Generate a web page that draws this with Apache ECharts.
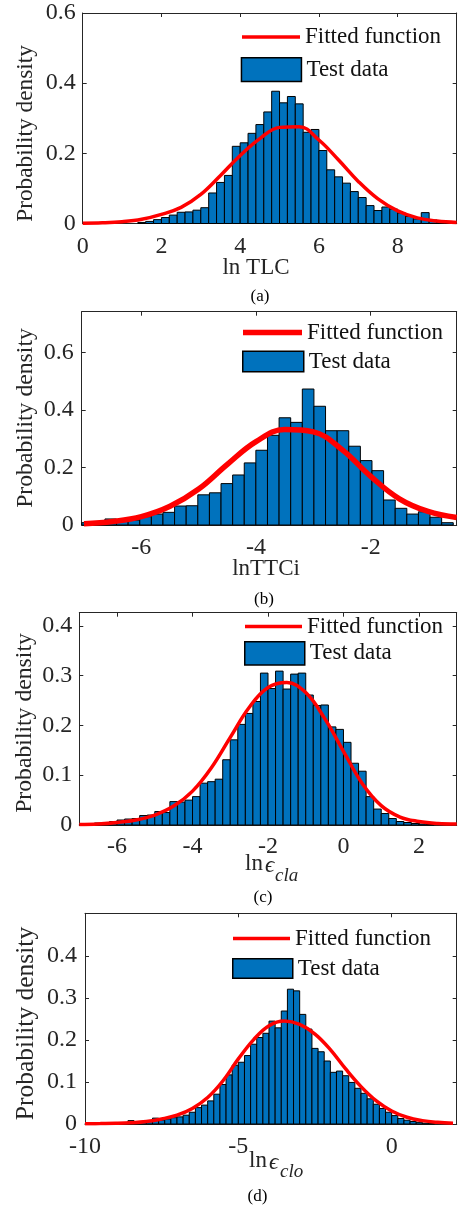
<!DOCTYPE html>
<html><head><meta charset="utf-8">
<script src="https://cdn.jsdelivr.net/npm/echarts@6/dist/echarts.min.js"></script>
<style>html,body{margin:0;padding:0;background:#fff}#c{width:459px;height:1210px}</style>
</head><body><div id="c"></div>
<script>
// ---------------- DATA ----------------
// Panel (a): ln TLC
const aBinStart = 1.4, aBinWidth = 0.2;
const aDensity = [0.003,0.006,0.011,0.017,0.024,0.032,0.033,0.038,0.045,0.087,0.117,0.137,0.22,0.23,0.257,0.282,0.318,0.377,0.344,0.362,0.341,0.26,0.268,0.208,0.153,0.133,0.115,0.091,0.074,0.051,0.037,0.047,0.041,0.030,0.020,0.013,0.031,0.010,0.008,0.005];
const aCurveX = [0,0.5,1,1.5,2,2.5,3,3.5,4,4.5,5,5.5,6,6.5,7,7.5,8,8.5,9,9.5];
const aCurveY = [0.001,0.002,0.005,0.012,0.026,0.046,0.083,0.137,0.194,0.242,0.274,0.276,0.238,0.181,0.12,0.07,0.036,0.016,0.007,0.003];
const aXTicks = [0,2,4,6,8];
const aYTicks = [0,0.2,0.4,0.6];

// Panel (b): lnTTCi
const bBinStart = -7.04, bBinWidth = 0.2025;
const bDensity = [0.008,0.007,0.021,0.017,0.017,0.029,0.038,0.044,0.066,0.067,0.105,0.112,0.144,0.174,0.216,0.26,0.312,0.373,0.357,0.473,0.413,0.328,0.328,0.274,0.224,0.189,0.087,0.058,0.038,0.046,0.027,0.008];
const bCurveX = [-7,-6.5,-6,-5.5,-5,-4.5,-4,-3.5,-3,-2.5,-2,-1.5,-1,-0.5];
const bCurveY = [0.004,0.012,0.029,0.065,0.125,0.211,0.29,0.332,0.324,0.262,0.169,0.091,0.047,0.026];
const bXTicks = [-6,-4,-2];
const bYTicks = [0,0.2,0.4,0.6];

// Panel (c): ln eps_cla
const cBinStart = -7.0, cBinWidth = 0.2;
const cDensity = [0.001,0.003,0.004,0.005,0.007,0.010,0.012,0.013,0.019,0.020,0.027,0.025,0.047,0.046,0.050,0.057,0.084,0.087,0.092,0.131,0.171,0.202,0.224,0.248,0.305,0.274,0.309,0.273,0.303,0.305,0.261,0.240,0.241,0.197,0.192,0.166,0.124,0.108,0.057,0.032,0.023,0.013,0.007,0.005,0.003,0.002,0.001];
const cCurveX = [-7,-6.5,-6,-5.5,-5,-4.5,-4,-3.5,-3,-2.5,-2,-1.5,-1,-0.5,0,0.5,1,1.5,2,2.5,3];
const cCurveY = [0.001,0.002,0.005,0.010,0.020,0.038,0.068,0.115,0.176,0.236,0.276,0.286,0.266,0.214,0.148,0.083,0.039,0.016,0.007,0.003,0.002];
const cXTicks = [-6,-4,-2,0,2];
const cYTicks = [0,0.1,0.2,0.3,0.4];

// Panel (d): ln eps_clo
const dBinStart = -10.0, dBinWidth = 0.2;
const dDensity = [0.001,0.001,0.001,0.002,0.001,0.002,0.003,0.008,0.004,0.005,0.006,0.014,0.0095,0.012,0.015,0.017,0.021,0.028,0.039,0.045,0.055,0.071,0.094,0.117,0.14,0.147,0.163,0.19,0.206,0.216,0.245,0.229,0.269,0.321,0.317,0.261,0.226,0.18,0.172,0.15,0.123,0.126,0.115,0.099,0.085,0.073,0.06,0.047,0.037,0.028,0.02,0.013,0.009,0.006,0.004,0.002,0.0016];
const dCurveX = [-10,-9.5,-9,-8.5,-8,-7.5,-7,-6.5,-6,-5.5,-5,-4.5,-4,-3.5,-3,-2.5,-2,-1.5,-1,-0.5,0,0.5,1,1.5,2];
const dCurveY = [0.0005,0.001,0.0016,0.003,0.006,0.012,0.021,0.037,0.063,0.103,0.155,0.201,0.234,0.245,0.237,0.214,0.177,0.131,0.089,0.055,0.031,0.016,0.008,0.004,0.002];
const dXTicks = [-10,-5,0];
const dYTicks = [0,0.1,0.2,0.3,0.4];

const seriesNames = ['Fitted function', 'Test data'];
const captions = ['(a)', '(b)', '(c)', '(d)'];
const yLabelText = 'Probability density';

// ---------------- LAYOUT / STYLE ----------------
const FONT = '"Liberation Serif", "Times New Roman", "DejaVu Serif", serif';
const AX = '#262626';
const BLUE = '#0072BD';
const RED = '#FF0000';

const panels = [
  {binStart:aBinStart, binWidth:aBinWidth, dens:aDensity, cx:aCurveX, cy:aCurveY, xt:aXTicks, yt:aYTicks,
   grid:{left:82.7, top:13, width:374, height:210.5}, xMin:0, xMax:9.5, yMax:0.6, lw:3.5,
   lineLeg:{left:242, cy:37.5, w:58}, barLeg:{left:240.7, top:57, w:60, h:23.7}, xlm:11, ylm:7},
  {binStart:bBinStart, binWidth:bBinWidth, dens:bDensity, cx:bCurveX, cy:bCurveY, xt:bXTicks, yt:bYTicks,
   grid:{left:81.7, top:311.7, width:375, height:213.3}, xMin:-7.04, xMax:-0.5, yMax:0.742, lw:5.5,
   lineLeg:{left:243, cy:333, w:59}, barLeg:{left:242, top:350, w:61, h:20.7}, xlm:11, ylm:8},
  {binStart:cBinStart, binWidth:cBinWidth, dens:cDensity, cx:cCurveX, cy:cCurveY, xt:cXTicks, yt:cYTicks,
   grid:{left:79.3, top:612.7, width:377.4, height:212.3}, xMin:-7, xMax:3, yMax:0.4263, lw:3.5,
   lineLeg:{left:245, cy:627, w:57}, barLeg:{left:244, top:641, w:60, h:23.3}, xlm:10, ylm:7},
  {binStart:dBinStart, binWidth:dBinWidth, dens:dDensity, cx:dCurveX, cy:dCurveY, xt:dXTicks, yt:dYTicks,
   grid:{left:85, top:913.3, width:371.7, height:210.7}, xMin:-10, xMax:2.12, yMax:0.5017, lw:3.5,
   lineLeg:{left:233, cy:939, w:57}, barLeg:{left:232, top:957, w:60, h:19.3}, xlm:11, ylm:8}
];

const grids = [], xAxes = [], yAxes = [], series = [], legends = [];
const fmt = v => String(v);

panels.forEach((p, i) => {
  grids.push(Object.assign({containLabel:false}, p.grid));
  const base = {gridIndex:i, type:'value', splitLine:{show:false}};
  const line = {show:true, onZero:false, lineStyle:{color:AX, width:1}};
  xAxes.push(Object.assign({}, base, {min:p.xMin, max:p.xMax, position:'bottom', axisLine:line,
    axisTick:{show:true, inside:true, length:4, customValues:p.xt, lineStyle:{color:AX}},
    axisLabel:{show:true, customValues:p.xt, margin:p.xlm, fontSize:24, fontFamily:FONT, color:AX, formatter:fmt}}));
  xAxes.push(Object.assign({}, base, {min:p.xMin, max:p.xMax, position:'top', axisLine:line,
    axisTick:{show:true, inside:true, length:4, customValues:p.xt, lineStyle:{color:AX}},
    axisLabel:{show:false}}));
  yAxes.push(Object.assign({}, base, {min:0, max:p.yMax, position:'left', axisLine:line,
    axisTick:{show:true, inside:true, length:4, customValues:p.yt, lineStyle:{color:AX}},
    axisLabel:{show:true, customValues:p.yt, margin:p.ylm, fontSize:24, fontFamily:FONT, color:AX, formatter:fmt}}));
  yAxes.push(Object.assign({}, base, {min:0, max:p.yMax, position:'right', axisLine:line,
    axisTick:{show:true, inside:true, length:4, customValues:p.yt, lineStyle:{color:AX}},
    axisLabel:{show:false}}));

  series.push({
    type:'custom', name:seriesNames[1], xAxisIndex:2*i, yAxisIndex:2*i, z:2,
    itemStyle:{color:BLUE, borderColor:'#000', borderWidth:1},
    encode:{x:[0,1], y:2},
    data:p.dens.map((v, k) => [p.binStart + k*p.binWidth, p.binStart + (k+1)*p.binWidth, v]),
    renderItem:(params, api) => {
      const a = api.coord([api.value(0), api.value(2)]);
      const b = api.coord([api.value(1), 0]);
      return {type:'rect', shape:{x:a[0], y:a[1], width:b[0]-a[0], height:b[1]-a[1]},
        style:{fill:BLUE, stroke:'#000', lineWidth:1}};
    }
  });
  series.push({
    type:'line', name:seriesNames[0], xAxisIndex:2*i, yAxisIndex:2*i, z:3,
    data:p.cx.map((x, k) => [x, p.cy[k]]),
    smooth:0.4, symbol:'none', showSymbol:false,
    lineStyle:{color:RED, width:p.lw}, itemStyle:{color:RED}
  });

  legends.push({
    left:p.lineLeg.left, top:p.lineLeg.cy - 12, padding:0, selectedMode:false,
    itemWidth:p.lineLeg.w, itemHeight:p.lw, itemGap:0,
    data:[{name:seriesNames[0], icon:'rect'}],
    itemStyle:{color:RED, borderWidth:0},
    textStyle:{fontSize:23, fontFamily:FONT, color:'#111'}
  });
  legends.push({
    left:p.barLeg.left, top:p.barLeg.top, padding:0, selectedMode:false,
    itemWidth:p.barLeg.w, itemHeight:p.barLeg.h, itemGap:0,
    data:[{name:seriesNames[1], icon:'rect'}],
    itemStyle:{color:BLUE, borderColor:'#000', borderWidth:1.5},
    textStyle:{fontSize:23, fontFamily:FONT, color:'#111'}
  });
});

function txt(text, x, y, size, opts) {
  opts = opts || {};
  const font = (opts.italic ? 'italic ' : '') + size + 'px ' + FONT;
  return {type:'text', x:x, y:y, rotation:opts.rot || 0, z:10,
    style:{text:text, font:font, fill:opts.fill || AX,
      textAlign:opts.align || 'center', textVerticalAlign:'middle',
      align:opts.align || 'center', verticalAlign:'middle'}};
}

const graphics = [
  txt(yLabelText, 26, 133.5, 23.3, {rot:Math.PI/2}),
  txt(yLabelText, 26, 418, 23.7, {rot:Math.PI/2}),
  txt(yLabelText, 25, 723, 23.7, {rot:Math.PI/2}),
  txt(yLabelText, 26, 1023.5, 25.5, {rot:Math.PI/2}),
  txt('ln TLC', 256, 268, 23),
  txt('lnTTCi', 266, 569, 23),
  txt('ln', 245, 864, 23, {align:'left'}),
  txt('\u03F5', 265, 866, 23, {align:'left', italic:true}),
  txt('cla', 275, 876, 19, {align:'left', italic:true}),
  txt('ln', 249, 1161, 23, {align:'left'}),
  txt('\u03F5', 269, 1163, 23, {align:'left', italic:true}),
  txt('clo', 280, 1172, 19, {align:'left', italic:true}),
  txt(captions[0], 260, 297, 17, {fill:'#000'}),
  txt(captions[1], 264, 600, 17, {fill:'#000'}),
  txt(captions[2], 263, 898, 17, {fill:'#000'}),
  txt(captions[3], 257.5, 1197, 17, {fill:'#000'})
];

const chart = echarts.init(document.getElementById('c'), null, {renderer:'canvas'});
chart.setOption({
  animation:false,
  backgroundColor:'#fff',
  grid:grids, xAxis:xAxes, yAxis:yAxes, series:series, legend:legends,
  graphic:{elements:graphics}
});
</script></body></html>
